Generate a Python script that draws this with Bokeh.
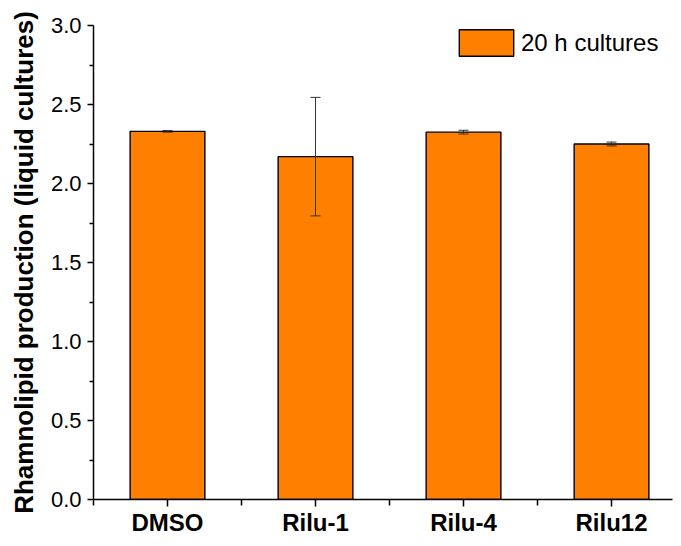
from bokeh.plotting import figure
from bokeh.models import (ColumnDataSource, FixedTicker, Whisker, TeeHead, Legend,
                          LegendItem, Range1d)
from bokeh.embed import file_html
from bokeh.resources import INLINE

categories = ["DMSO", "Rilu-1", "Rilu-4", "Rilu12"]
positions = [1, 2, 3, 4]
values = [2.33, 2.17, 2.325, 2.25]
errors = [0.005, 0.375, 0.012, 0.012]
y_ticks = [0.0, 0.5, 1.0, 1.5, 2.0, 2.5, 3.0]
y_minor = [0.25, 0.75, 1.25, 1.75, 2.25, 2.75]
x_minor = [0.5, 1.5, 2.5, 3.5, 4.5]
series_name = "20 h cultures"
y_title = "Rhamnolipid production (liquid cultures)"

FONT = "Liberation Sans"

src = ColumnDataSource(dict(
    x=positions, top=values,
    upper=[v + e for v, e in zip(values, errors)],
    lower=[v - e for v, e in zip(values, errors)],
))

p = figure(width=673, height=538, output_backend="svg", toolbar_location=None,
           x_range=Range1d(0.5, 4.412), y_range=Range1d(0, 3.0),
           min_border_left=93, min_border_right=1, min_border_top=25,
           min_border_bottom=30)
p.outline_line_color = None
p.grid.visible = False
p.background_fill_color = "white"

bars = p.vbar(x="x", top="top", width=0.505, source=src, fill_color="#FF8000",
              line_color="black", line_width=1.4)

w = Whisker(base="x", upper="upper", lower="lower", source=src,
            line_color="#333333", line_width=1, level="overlay",
            upper_head=TeeHead(size=10, line_color="#333333", line_width=1),
            lower_head=TeeHead(size=10, line_color="#333333", line_width=1))
p.add_layout(w)

# x axis
xa = p.xaxis[0]
xa.ticker = FixedTicker(ticks=positions, minor_ticks=x_minor)
xa.major_label_overrides = {pos: c for pos, c in zip(positions, categories)}
xa.major_label_text_font = FONT
xa.major_label_text_font_style = "bold"
xa.major_label_text_font_size = "24px"
xa.major_label_text_color = "black"
xa.major_label_standoff = 2
xa.axis_line_width = 1.5
xa.axis_line_color = "black"
xa.major_tick_in = 0
xa.major_tick_out = 7
xa.minor_tick_in = 0
xa.minor_tick_out = 6
xa.major_tick_line_width = 1.5
xa.minor_tick_line_width = 1.5

# y axis
ya = p.yaxis[0]
ya.ticker = FixedTicker(ticks=y_ticks, minor_ticks=y_minor)
ya.major_label_overrides = {t: f"{t:.1f}" for t in y_ticks}
ya.major_label_text_font = FONT
ya.major_label_text_font_size = "22px"
ya.major_label_text_color = "black"
ya.major_label_standoff = 6
ya.axis_line_width = 1.5
ya.axis_line_color = "black"
ya.major_tick_in = 0
ya.major_tick_out = 6
ya.minor_tick_in = 0
ya.minor_tick_out = 4
ya.major_tick_line_width = 1.5
ya.minor_tick_line_width = 1.5
ya.axis_label = y_title
ya.axis_label_text_font = FONT
ya.axis_label_text_font_style = "bold"
ya.axis_label_text_font_size = "26px"
ya.axis_label_text_color = "black"
ya.axis_label_standoff = 9

legend = Legend(items=[LegendItem(label=series_name, renderers=[bars])],
                location=(359, 440), padding=0, margin=0, spacing=0,
                glyph_width=68, glyph_height=33, label_height=33,
                label_standoff=1, label_text_font=FONT,
                label_text_font_size="24px", label_text_color="black",
                border_line_color=None, background_fill_alpha=0)
p.add_layout(legend)

open("out.html", "w").write(file_html(p, INLINE))
